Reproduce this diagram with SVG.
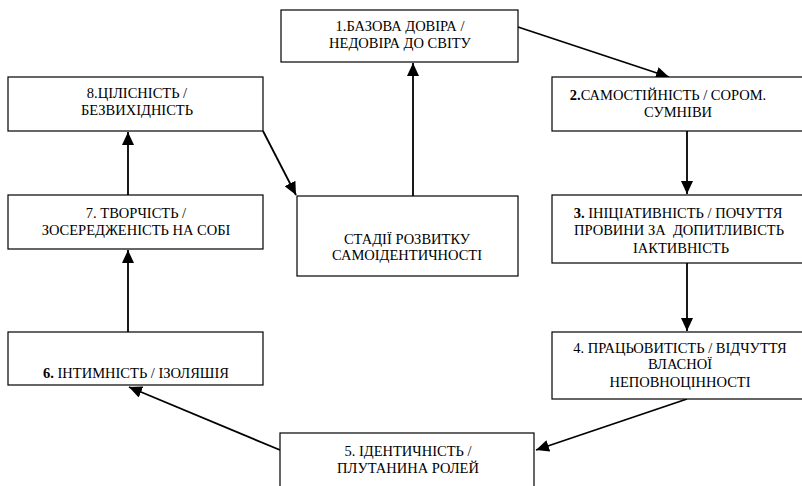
<svg xmlns="http://www.w3.org/2000/svg" width="802" height="486" viewBox="0 0 802 486">
<style>
.box{fill:#fff;stroke:#000;stroke-width:1.2}
.c{stroke:#000;stroke-width:1.8;fill:none;marker-end:url(#ah)}
</style>
<defs>
<marker id="ah" markerUnits="userSpaceOnUse" markerWidth="14" markerHeight="12" refX="13" refY="6" orient="auto">
<path d="M0,0 L13,6 L0,12 Z" fill="#000"/>
</marker>
</defs>
<rect width="802" height="486" fill="#fff"/>
<g id="connectors">
<line class="c" x1="413" y1="196" x2="413" y2="63"/>
<line class="c" x1="518" y1="27" x2="669" y2="77"/>
<line class="c" x1="687" y1="131" x2="687" y2="194"/>
<line class="c" x1="687" y1="263" x2="687" y2="331"/>
<line class="c" x1="687" y1="399" x2="536" y2="450"/>
<line class="c" x1="280" y1="450" x2="129" y2="387"/>
<line class="c" x1="128" y1="332" x2="128" y2="250"/>
<line class="c" x1="128" y1="195" x2="128" y2="132"/>
<line class="c" x1="263" y1="131" x2="296" y2="195"/>
</g>
<g font-family="Liberation Serif" font-size="14.5" text-anchor="middle" fill="#000">
<g id="n1">
<rect class="box" x="281" y="10" width="237" height="52"/>
<text x="400" y="31">1.БАЗОВА ДОВІРА /</text>
<text x="400" y="48">НЕДОВІРА ДО СВІТУ</text>
</g>
<g id="n2">
<rect class="box" x="552" y="77" width="256" height="54"/>
<text x="668" y="100"><tspan font-weight="bold">2.</tspan>САМОСТІЙНІСТЬ / СОРОМ.</text>
<text x="678" y="117">СУМНІВИ</text>
</g>
<g id="n3">
<rect class="box" x="552" y="195" width="256" height="68"/>
<text x="678" y="218"><tspan font-weight="bold">3.</tspan> ІНІЦІАТИВНІСТЬ / ПОЧУТТЯ</text>
<text x="679" y="235" xml:space="preserve">ПРОВИНИ ЗА  ДОПИТЛИВІСТЬ</text>
<text x="681" y="253">ІАКТИВНІСТЬ</text>
</g>
<g id="n4">
<rect class="box" x="552" y="332" width="256" height="67"/>
<text x="680" y="353">4. ПРАЦЬОВИТІСТЬ / ВІДЧУТТЯ</text>
<text x="680" y="369">ВЛАСНОЇ</text>
<text x="680" y="387">НЕПОВНОЦІННОСТІ</text>
</g>
<g id="n5">
<rect class="box" x="280" y="433" width="254" height="60"/>
<text x="408" y="456">5. ІДЕНТИЧНІСТЬ /</text>
<text x="408" y="473">ПЛУТАНИНА РОЛЕЙ</text>
</g>
<g id="n6">
<rect class="box" x="8" y="332" width="255" height="53"/>
<text x="136" y="378"><tspan font-weight="bold">6.</tspan> ІНТИМНІСТЬ / ІЗОЛЯШІЯ</text>
</g>
<g id="n7">
<rect class="box" x="8" y="195" width="255" height="54"/>
<text x="136" y="218">7. ТВОРЧІСТЬ /</text>
<text x="136" y="235">ЗОСЕРЕДЖЕНІСТЬ НА СОБІ</text>
</g>
<g id="n8">
<rect class="box" x="8" y="77" width="255" height="54"/>
<text x="137" y="98">8.ЦІЛІСНІСТЬ /</text>
<text x="137" y="115">БЕЗВИХІДНІСТЬ</text>
</g>
<g id="center">
<rect class="box" x="297" y="196" width="221" height="80"/>
<text x="407" y="244">СТАДІЇ РОЗВИТКУ</text>
<text x="407" y="260">САМОІДЕНТИЧНОСТІ</text>
</g>
</g>
</svg>
